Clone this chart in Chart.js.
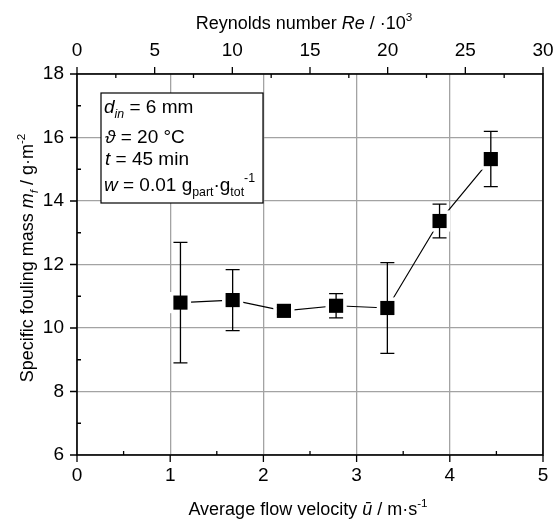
<!DOCTYPE html>
<html>
<head>
<meta charset="utf-8">
<script src="https://cdn.jsdelivr.net/npm/chart.js@4"></script>
<style>
html, body { margin: 0; padding: 0; background: #fff; }
#wrap { width: 558px; height: 520px; }
</style>
</head>
<body>
<div id="wrap"><canvas id="chart"></canvas></div>
<script>
// values
const velocity = [1.11, 1.67, 2.22, 2.78, 3.33, 3.89, 4.44];      // m/s
const foulingMass = [10.80, 10.88, 10.54, 10.70, 10.63, 13.37, 15.32]; // g/m2
const errorBar = [1.90, 0.96, 0.10, 0.38, 1.43, 0.53, 0.87];

const xRange = [0, 5];
const reRange = [0, 30];
const yRange = [6, 18];

const fontFamily = "'Liberation Sans', Arial, sans-serif";

function drawRich(ctx, parts, x, y, size, align) {
    let total = 0;
    const items = parts.map(p => {
        const s = (p.sub || p.sup) ? size * 0.65 : size;
        const font = (p.it ? 'italic ' : '') + s + 'px ' + fontFamily;
        ctx.font = font;
        const w = ctx.measureText(p.t).width;
        total += w;
        return { t: p.t, font: font, w: w, sub: p.sub, sup: p.sup };
    });
    let cx = align === 'center' ? x - total / 2 : x;
    ctx.textAlign = 'left';
    ctx.textBaseline = 'alphabetic';
    for (const it of items) {
        ctx.font = it.font;
        let dy = 0;
        if (it.sub) dy = size * 0.28;
        if (it.sup) dy = -size * 0.45;
        ctx.fillText(it.t, cx, y + dy);
        cx += it.w;
    }
}

const points = velocity.map((v, i) => ({ x: v, y: foulingMass[i] }));

const decor = {
    id: 'decor',
    afterDatasetsDraw(chart) {
        const { ctx, scales } = chart;
        ctx.save();
        ctx.strokeStyle = '#000';
        ctx.lineWidth = 1.3;
        ctx.beginPath();
        for (let i = 0; i < velocity.length; i++) {
            const px = scales.x.getPixelForValue(velocity[i]);
            const yt = scales.y.getPixelForValue(foulingMass[i] + errorBar[i]);
            const yb = scales.y.getPixelForValue(foulingMass[i] - errorBar[i]);
            ctx.moveTo(px, yt); ctx.lineTo(px, yb);
            ctx.moveTo(px - 7, yt); ctx.lineTo(px + 7, yt);
            ctx.moveTo(px - 7, yb); ctx.lineTo(px + 7, yb);
        }
        ctx.stroke();
        ctx.restore();
    },
    afterDraw(chart) {
        const { ctx, chartArea: a, scales } = chart;
        ctx.save();
        ctx.strokeStyle = '#000';
        ctx.lineWidth = 1.3;
        ctx.beginPath();
        // bottom axis: major out, minor in
        for (let v = 0; v <= 5.001; v += 0.5) {
            const px = scales.x.getPixelForValue(v);
            if (Math.abs(v - Math.round(v)) < 1e-6) {
                ctx.moveTo(px, a.bottom); ctx.lineTo(px, a.bottom + 7);
            } else {
                ctx.moveTo(px, a.bottom); ctx.lineTo(px, a.bottom - 4);
            }
        }
        // top axis
        for (let v = 0; v <= 30.001; v += 2.5) {
            const px = scales.x2.getPixelForValue(v);
            if (Math.abs(v / 5 - Math.round(v / 5)) < 1e-6) {
                ctx.moveTo(px, a.top); ctx.lineTo(px, a.top - 7);
            } else {
                ctx.moveTo(px, a.top); ctx.lineTo(px, a.top + 4);
            }
        }
        // left axis
        for (let v = 6; v <= 18.001; v += 1) {
            const py = scales.y.getPixelForValue(v);
            if (v % 2 === 0) {
                ctx.moveTo(a.left, py); ctx.lineTo(a.left - 7, py);
            } else {
                ctx.moveTo(a.left, py); ctx.lineTo(a.left + 4, py);
            }
        }
        ctx.stroke();
        ctx.lineWidth = 1.6;
        ctx.strokeRect(a.left, a.top, a.right - a.left, a.bottom - a.top);

        // info box
        ctx.fillStyle = '#fff';
        ctx.fillRect(101, 93, 162, 110);
        ctx.lineWidth = 1.2;
        ctx.strokeRect(101, 93, 162, 110);
        ctx.fillStyle = '#000';
        drawRich(ctx, [{ t: 'd', it: true }, { t: 'in', it: true, sub: true }, { t: ' = 6 mm' }], 104, 113, 19);
        drawRich(ctx, [{ t: 'ϑ', it: true }, { t: ' = 20 °C' }], 105, 142.5, 19);
        drawRich(ctx, [{ t: 't', it: true }, { t: ' = 45 min' }], 105, 165, 19);
        drawRich(ctx, [{ t: 'w', it: true }, { t: ' = 0.01 g' }, { t: 'part', sub: true }, { t: '·g' },
            { t: 'tot', sub: true }, { t: '-1', sup: true }], 104, 190.5, 19);

        // axis titles
        drawRich(ctx, [{ t: 'Reynolds number ' }, { t: 'Re', it: true }, { t: ' / ·10' }, { t: '3', sup: true }],
            304, 29, 18, 'center');
        drawRich(ctx, [{ t: 'Average flow velocity ' }, { t: 'ū', it: true }, { t: ' / m·s' }, { t: '-1', sup: true }],
            308, 515, 18, 'center');
        ctx.save();
        ctx.translate(33, 258);
        ctx.rotate(-Math.PI / 2);
        drawRich(ctx, [{ t: 'Specific fouling mass ' }, { t: 'm', it: true }, { t: 'f', it: true, sub: true },
            { t: ' / g·m' }, { t: '-2', sup: true }], 0, 0, 18, 'center');
        ctx.restore();
        ctx.restore();
    }
};

const tickFont = { family: fontFamily, size: 19 };
const gridStyle = { color: '#a3a3a3', lineWidth: 1.3, drawTicks: false };

new Chart(document.getElementById('chart'), {
    type: 'scatter',
    data: {
        datasets: [
            { data: points, showLine: true, borderColor: '#000', borderWidth: 1.2, pointRadius: 0, order: 3 },
            { data: points, pointStyle: 'rect', pointRadius: 15, backgroundColor: '#fff', borderWidth: 0, order: 2 },
            { data: points, pointStyle: 'rect', pointRadius: 10, backgroundColor: '#000', borderWidth: 0, order: 1 }
        ]
    },
    options: {
        responsive: true,
        maintainAspectRatio: false,
        animation: false,
        layout: { padding: { top: 0, right: 9, bottom: 0, left: 0 } },
        plugins: { legend: { display: false }, tooltip: { enabled: false } },
        scales: {
            x: {
                type: 'linear', position: 'bottom', min: xRange[0], max: xRange[1],
                ticks: { stepSize: 1, padding: 9, color: '#000', font: tickFont },
                grid: gridStyle, border: { display: false },
                afterFit(s) { s.height = 65; s.paddingLeft = 0; s.paddingRight = 0; }
            },
            x2: {
                type: 'linear', position: 'top', min: reRange[0], max: reRange[1],
                ticks: { stepSize: 5, padding: 12, color: '#000', font: tickFont },
                grid: { display: false, drawTicks: false }, border: { display: false },
                afterFit(s) { s.height = 74; s.paddingLeft = 0; s.paddingRight = 0; }
            },
            y: {
                type: 'linear', position: 'left', min: yRange[0], max: yRange[1],
                ticks: { stepSize: 2, padding: 13, color: '#000', font: tickFont },
                grid: gridStyle, border: { display: false },
                afterFit(s) { s.width = 77; }
            }
        }
    },
    plugins: [decor]
});
</script>
</body>
</html>
